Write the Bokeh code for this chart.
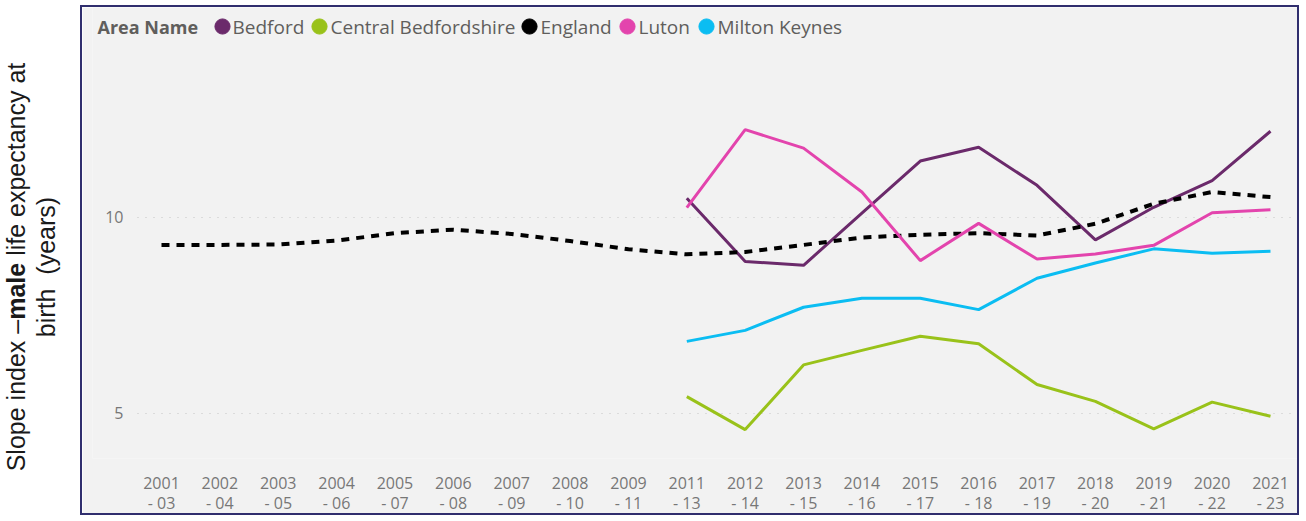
from bokeh.plotting import figure
from bokeh.models import Div, Legend, LegendItem, FixedTicker, Range1d, Label
from bokeh.core.properties import value
from bokeh.layouts import row
from bokeh.embed import file_html
from bokeh.resources import INLINE

# ---- data -------------------------------------------------------------
periods = ["2001\n- 03", "2002\n- 04", "2003\n- 05", "2004\n- 06", "2005\n- 07",
           "2006\n- 08", "2007\n- 09", "2008\n- 10", "2009\n- 11", "2011\n- 13",
           "2012\n- 14", "2013\n- 15", "2014\n- 16", "2015\n- 17", "2016\n- 18",
           "2017\n- 19", "2018\n- 20", "2019\n- 21", "2020\n- 22", "2021\n- 23"]

england = [9.30, 9.30, 9.31, 9.41, 9.60, 9.69, 9.58, 9.40, 9.19, 9.06,
           9.12, 9.30, 9.49, 9.56, 9.60, 9.54, 9.84, 10.35, 10.65, 10.52]
bedford = [10.49, 8.88, 8.78, 10.11, 11.44, 11.79, 10.82, 9.43, 10.26, 10.94, 12.20]
central_beds = [5.43, 4.59, 6.24, 6.61, 6.97, 6.78, 5.74, 5.31, 4.61, 5.29, 4.93]
luton = [10.25, 12.24, 11.77, 10.65, 8.90, 9.85, 8.94, 9.07, 9.29, 10.12, 10.20]
milton_keynes = [6.84, 7.12, 7.71, 7.94, 7.94, 7.65, 8.45, 8.84, 9.20, 9.09, 9.14]

names = ["Bedford", "Central Bedfordshire", "England", "Luton", "Milton Keynes"]
colors = ["#6b2a6b", "#99c21a", "#000000", "#e344ad", "#0bbdf2"]
y_ticks = [5, 10]

# positions along the category axis
xpos = list(range(len(periods)))
first_recent = periods.index("2011\n- 13")
xrecent = xpos[first_recent:]

# ---- layout constants (pixels) -----------------------------------------
FRAME_LEFT, FRAME_RIGHT = 92, 1299          # page x of plot frame
X0, X1 = -1.182, 19.497                     # x range
PX = (FRAME_RIGHT - FRAME_LEFT) / (X1 - X0)
def px_to_x(px):
    return X0 + (px - FRAME_LEFT) / PX

legend_dot_px = [222, 319, 529, 627, 706]   # legend dot centres (page x)
legend_text_px = [232, 330, 540, 638, 717]  # legend label starts (page x)
LEGEND_Y = 14.872                           # legend row, in value units

# ---- figure -----------------------------------------------------------
p = figure(width=1219, height=510, margin=(5, 0, 0, 0),
           x_range=Range1d(X0, X1), y_range=Range1d(3.852, 15.357),
           output_backend="svg", toolbar_location=None,
           min_border_left=10, min_border_right=2, min_border_top=0, min_border_bottom=52,
           background_fill_color="#f2f2f2", border_fill_color="#f2f2f2",
           outline_line_color=None)
p.styles = {"border": "2px solid #302e6e"}

# dotted value gridlines + value labels
p.segment(x0=px_to_x(137), x1=X1, y0=y_ticks, y1=y_ticks, line_color="#c4c4c4",
          line_width=1, line_dash="1 7")
p.text(x=px_to_x(123), y=y_ticks, text=[str(t) for t in y_ticks], text_align="right",
       text_baseline="middle", text_font=value("Open Sans"), text_font_size="16px",
       text_color="#777777")

p.line(xrecent, bedford, color=colors[0], line_width=3)
p.line(xrecent, central_beds, color=colors[1], line_width=3)
p.line(xpos, england, color=colors[2], line_width=4, line_dash="8 7")
p.line(xrecent, luton, color=colors[3], line_width=3)
p.line(xrecent, milton_keynes, color=colors[4], line_width=3)

# legend: one dot per area (renderers with no visible point) + its name
nan = float("nan")
GB = 38
for name, col, dpx, tpx in zip(names, colors, legend_dot_px, legend_text_px):
    dot = p.scatter(x=[nan], y=[nan], marker="circle", size=15, color=col)
    lg = Legend(items=[LegendItem(label=" ", renderers=[dot])],
                orientation="horizontal", location=(dpx - GB / 2 - FRAME_LEFT, 413),
                glyph_width=GB, glyph_height=GB, label_height=GB, label_width=1,
                label_standoff=0, spacing=0, padding=0, margin=0,
                border_line_color=None, background_fill_alpha=0,
                label_text_font_size="1px")
    p.add_layout(lg)
    p.add_layout(Label(x=px_to_x(tpx), y=LEGEND_Y, text=name,
                       text_font="Open Sans", text_font_size="19px",
                       text_color="#605e5c", text_baseline="middle"))
p.add_layout(Label(x=px_to_x(97), y=LEGEND_Y, text="Area Name",
                   text_font="Open Sans", text_font_size="18px", text_font_style="bold",
                   text_color="#605e5c", text_baseline="middle"))

p.yaxis.visible = False
p.xaxis.ticker = FixedTicker(ticks=xpos)
p.xaxis.major_label_overrides = {i: lab for i, lab in zip(xpos, periods)}
p.xaxis.axis_line_color = None
p.xaxis.major_tick_line_color = None
p.xaxis.minor_tick_line_color = None
p.xaxis.major_label_text_font = "Open Sans"
p.xaxis.major_label_text_font_size = "16px"
p.xaxis.major_label_text_color = "#777777"
p.xaxis.major_label_text_line_height = 0.95
p.xaxis.major_label_standoff = 7
p.xgrid.grid_line_color = None
p.ygrid.grid_line_color = None

ytitle = Div(width=80, height=519, margin=0, text=(
    '<div style="position:relative;width:80px;height:519px;">'
    '<div style="position:absolute;left:31px;top:267px;'
    'transform:translate(-50%,-50%) rotate(-90deg);white-space:nowrap;text-align:center;'
    "font-family:'Liberation Sans',Arial,sans-serif;font-size:25px;line-height:30px;color:#1a1a1a;\">"
    'Slope index \u2013<b>male</b> life expectancy at<br>birth&nbsp;&nbsp;(years)</div></div>'))

layout = row(ytitle, p, spacing=0)
open("out.html", "w").write(file_html(layout, INLINE))
